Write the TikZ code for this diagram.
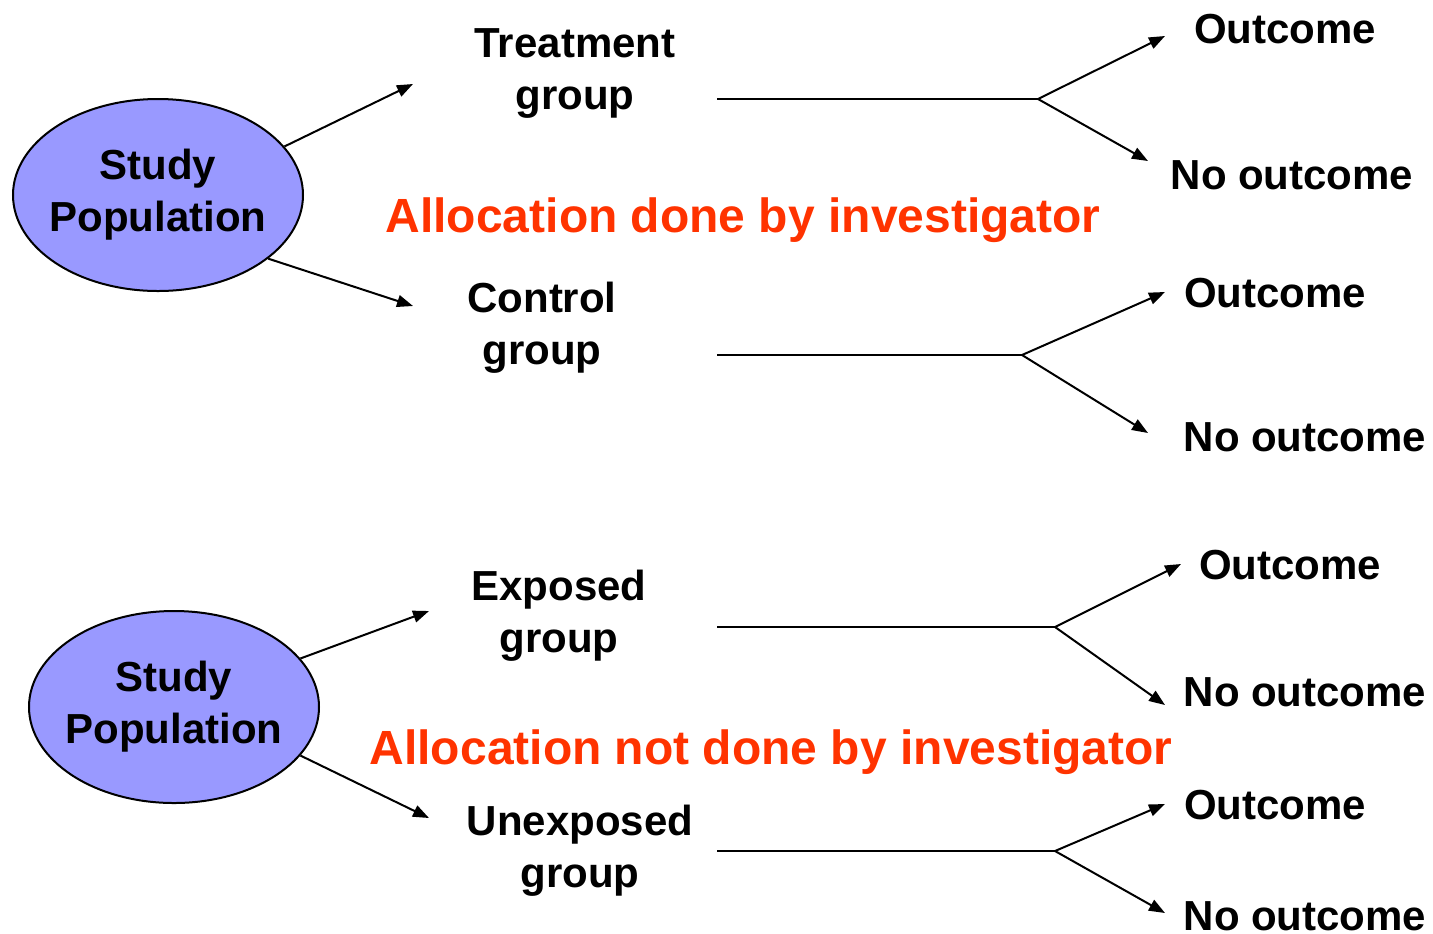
\documentclass[tikz,border=0pt]{standalone}
\usepackage{fontspec}
\setmainfont{Liberation Sans}
\usepackage{xcolor}
\definecolor{lilac}{HTML}{9999FF}
\definecolor{flame}{HTML}{FF3300}
\usetikzlibrary{arrows.meta,shapes.geometric}
\newcommand{\bigfont}{\fontsize{21}{26}\selectfont\bfseries}
\tikzset{
  >={Triangle[length=8pt,width=6pt]},
  pop/.style   ={ellipse,draw=black,fill=lilac,line width=1pt,
                 minimum width=145pt,minimum height=96pt,
                 inner xsep=-3pt,inner ysep=0pt,
                 font=\bigfont,align=center},
  grp/.style   ={font=\bigfont,align=center,inner sep=0pt},
  res/.style   ={font=\bigfont,inner sep=0pt},
  note/.style  ={font=\fontsize{24}{28}\selectfont\bfseries,text=flame,inner sep=0pt},
  flow/.style  ={->,line width=1pt},
  stem/.style  ={line width=1pt},
}

\begin{document}
\begin{tikzpicture}[x=0.5pt,y=-0.5pt]
\useasboundingbox (0,0) rectangle (1433,933);

% ---- experimental study
\node[pop] (pop1) at (158,195) {Study\\Population};
\node[grp] (trt) at (575,73)  {Treatment\\group};
\node[grp] (ctl) at (542,328) {Control\\group};
\node[note] (alloc1) at (743,220) {Allocation done by investigator};
\coordinate (trt-in) at (413,84);
\coordinate (ctl-in) at (413,306);
\draw[flow] (pop1.21) -- (trt-in);
\draw[flow] (pop1.-30) -- (ctl-in);

\node[res] (trt-y) at (1285,29)  {Outcome};
\node[res] (trt-n) at (1292,175) {No outcome};
\node[res] (ctl-y) at (1275,293) {Outcome};
\node[res] (ctl-n) at (1305,437) {No outcome};
\coordinate (trt-s) at (717,99);  \coordinate (trt-b) at (1038,99);
\coordinate (ctl-s) at (717,355); \coordinate (ctl-b) at (1022,355);
\coordinate (trt-yt) at (1165,36);  \coordinate (trt-nt) at (1148,161);
\coordinate (ctl-yt) at (1165,292); \coordinate (ctl-nt) at (1148,433);

% ---- observational study
\node[pop] (pop2) at (174,707) {Study\\Population};
\node[grp] (exp) at (559,616) {Exposed\\group};
\node[grp] (unx) at (580,851) {Unexposed\\group};
\node[note] (alloc2) at (771,752) {Allocation not done by investigator};
\coordinate (exp-in) at (429,611);
\coordinate (unx-in) at (429,818);
\draw[flow] (pop2.21) -- (exp-in);
\draw[flow] (pop2.-21) -- (unx-in);

\node[res] (exp-y) at (1290,565) {Outcome};
\node[res] (exp-n) at (1305,692) {No outcome};
\node[res] (unx-y) at (1275,805) {Outcome};
\node[res] (unx-n) at (1305,916) {No outcome};
\coordinate (exp-s) at (717,627); \coordinate (exp-b) at (1055,627);
\coordinate (unx-s) at (717,851); \coordinate (unx-b) at (1055,851);
\coordinate (exp-yt) at (1181,564); \coordinate (exp-nt) at (1165,705);
\coordinate (unx-yt) at (1165,804); \coordinate (unx-nt) at (1165,913);

\foreach \g in {trt,ctl,exp,unx} {
  \draw[stem] (\g-s) -- (\g-b);
  \draw[flow] (\g-b) -- (\g-yt);
  \draw[flow] (\g-b) -- (\g-nt);
}
\end{tikzpicture}
\end{document}
